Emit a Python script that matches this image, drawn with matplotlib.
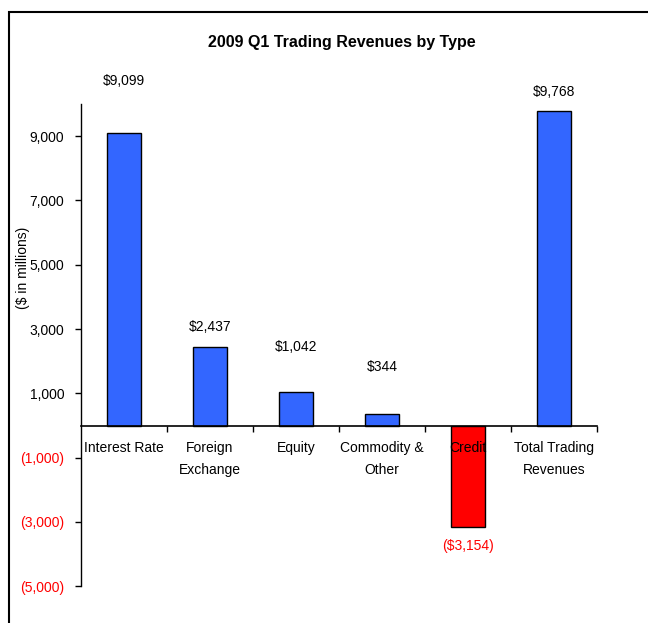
import matplotlib

matplotlib.use("Agg")
import matplotlib.pyplot as plt
from matplotlib.patches import Rectangle
from matplotlib.ticker import FixedLocator

plt.rcParams["font.family"] = ["Liberation Sans Narrow", "Liberation Sans", "DejaVu Sans"]

# values in $ millions
categories = ["Interest Rate", "Foreign\nExchange", "Equity", "Commodity &\nOther",
              "Credit", "Total Trading\nRevenues"]
revenues = [9099, 2437, 1042, 344, -3154, 9768]
value_labels = ["$9,099", "$2,437", "$1,042", "$344", "($3,154)", "$9,768"]
ytick_values = [9000, 7000, 5000, 3000, 1000, -1000, -3000, -5000]
ytick_labels = ["9,000", "7,000", "5,000", "3,000", "1,000", "(1,000)", "(3,000)", "(5,000)"]

# label offsets from bar end, in pixels (as placed in the original deck)
label_offsets = [52, 20, 45, 47, -19, 19]

BLUE = "#3366FF"
RED = "#FF0000"

fig = plt.figure(figsize=(6.48, 6.23), dpi=100)
ax = fig.add_axes([0.125, 0.059, 0.796, 0.774])
ax.set_axisbelow(False)

x = range(len(categories))
colors = [RED if v < 0 else BLUE for v in revenues]
ax.bar(x, revenues, width=0.4, color=colors, edgecolor="black", linewidth=1.0, zorder=1)

for xi, v, lab, off in zip(x, revenues, value_labels, label_offsets):
    ax.annotate(lab, (xi, v), xytext=(0, off), textcoords="offset pixels",
                ha="center", va="center", fontsize=10,
                color=RED if v < 0 else "black", annotation_clip=False)

ax.set_xlim(-0.5, len(categories) - 0.5)
ax.set_ylim(-5000, 10000)

ax.set_yticks(ytick_values)
ax.set_yticklabels(ytick_labels, fontsize=10)
for t, v in zip(ax.get_yticklabels(), ytick_values):
    t.set_color(RED if v < 0 else "black")
ax.tick_params(axis="y", direction="out", length=4, width=1, pad=8)

# category names sit just under the zero line, drawn over the bars
ax.set_xticks(list(x))
ax.set_xticklabels([])
ax.tick_params(axis="x", which="major", length=0)
for xi, name in zip(x, categories):
    ax.annotate(name, (xi, 0), xytext=(0, -15), textcoords="offset pixels",
                ha="center", va="top", fontsize=10, linespacing=1.75,
                zorder=3, annotation_clip=False)
ax.xaxis.set_minor_locator(FixedLocator([i + 0.5 for i in x]))
ax.tick_params(axis="x", which="minor", direction="out", length=4, width=1)

for s in ["top", "right"]:
    ax.spines[s].set_visible(False)
ax.spines["bottom"].set_position(("data", 0))
ax.spines["bottom"].set_linewidth(1.2)
ax.spines["left"].set_linewidth(1.0)

fig.text(0.527, 0.932, "2009 Q1 Trading Revenues by Type", ha="center", va="center",
         fontsize=11.5, fontweight="bold")
fig.text(0.036, 0.57, "($ in millions)", rotation=90, ha="center", va="center", fontsize=10)

# outer frame of the slide chart, running off the right and bottom edges
fig.patches.append(Rectangle((0.014, -0.05), 1.1, 1.031,
                             transform=fig.transFigure, fill=False,
                             edgecolor="black", linewidth=1.5))

fig.savefig("out.png", dpi=100)
